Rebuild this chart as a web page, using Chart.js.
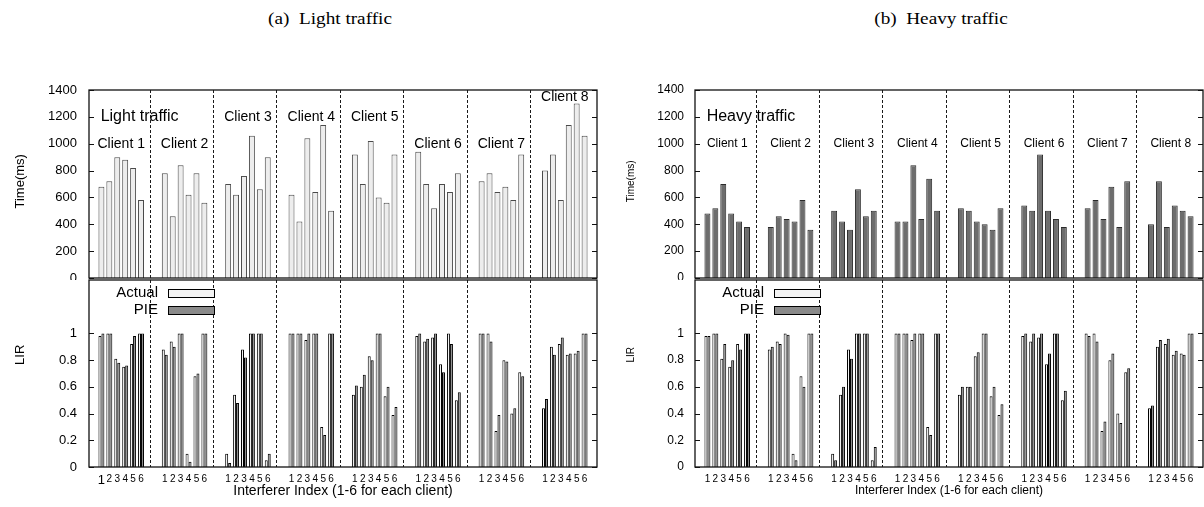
<!DOCTYPE html>
<html lang="en">
<head>
<meta charset="UTF-8">
<title>Time and LIR per client</title>
<script src="https://cdn.jsdelivr.net/npm/chart.js@4.4.1/dist/chart.umd.min.js"></script>
<style>
  body { margin: 0; background: #fff; width: 1204px; height: 507px; position: relative; overflow: hidden; }
  .box { position: absolute; }
  .box canvas { display: block; }
  .cap { position: absolute; top: 10px; width: 300px; text-align: center;
         font-family: "Liberation Serif", "Times New Roman", serif; font-size: 16px;
         transform: scaleX(1.2); }
</style>
</head>
<body>
<div class="cap" style="left:180px">(a)&nbsp; Light traffic</div>
<div class="cap" style="left:791px">(b)&nbsp; Heavy traffic</div>
<div class="box" style="left:0;top:0"><canvas id="timeA" width="600" height="280"></canvas></div>
<div class="box" style="left:0;top:279px"><canvas id="lirA" width="600" height="228"></canvas></div>
<div class="box" style="left:606px;top:0"><canvas id="timeB" width="598" height="280"></canvas></div>
<div class="box" style="left:606px;top:279px"><canvas id="lirB" width="598" height="228"></canvas></div>

<script>
// ---- data ----
const clients = ['Client 1', 'Client 2', 'Client 3', 'Client 4', 'Client 5', 'Client 6', 'Client 7', 'Client 8'];
const interferers = ['1', '2', '3', '4', '5', '6'];
const timeTicks = [0, 200, 400, 600, 800, 1000, 1200, 1400];
const lirTicks = [0, 0.2, 0.4, 0.6, 0.8, 1];

// time (ms), light traffic, one row per client
const timeLight = [
  [680, 720, 900, 880, 820, 580],
  [780, 460, 840, 620, 780, 560],
  [700, 620, 760, 1060, 660, 900],
  [620, 420, 1040, 640, 1140, 500],
  [920, 700, 1020, 600, 560, 920],
  [940, 700, 520, 700, 640, 780],
  [720, 780, 640, 680, 580, 920],
  [800, 920, 580, 1140, 1300, 1060]
];
// time (ms), heavy traffic
const timeHeavy = [
  [480, 520, 700, 480, 420, 380],
  [380, 460, 440, 420, 580, 360],
  [500, 420, 360, 660, 460, 500],
  [420, 420, 840, 440, 740, 500],
  [520, 500, 420, 400, 360, 520],
  [540, 500, 920, 500, 440, 380],
  [520, 580, 440, 680, 380, 720],
  [400, 720, 380, 540, 500, 460]
];
// measured LIR (same in both panels)
const lirActual = [
  [0.98, 1, 0.81, 0.75, 0.92, 1],
  [0.88, 0.94, 1, 0.10, 0.68, 1],
  [0.10, 0.54, 0.88, 1, 1, 0.05],
  [1, 1, 0.95, 1, 0.30, 1],
  [0.54, 0.60, 0.83, 1, 0.53, 0.39],
  [0.98, 0.94, 0.97, 0.77, 1, 0.50],
  [1, 1, 0.27, 0.80, 0.40, 0.71],
  [0.44, 0.90, 0.92, 0.84, 0.85, 1]
];
// PIE estimate, light traffic
const lirPieLight = [
  [1, 1, 0.78, 0.76, 0.98, 1],
  [0.84, 0.90, 1, 0.04, 0.70, 1],
  [0.03, 0.48, 0.82, 1, 1, 0.10],
  [1, 1, 1, 1, 0.24, 1],
  [0.61, 0.69, 0.80, 1, 0.60, 0.45],
  [1, 0.96, 1, 0.71, 0.92, 0.56],
  [1, 0.94, 0.39, 0.79, 0.44, 0.68],
  [0.51, 0.84, 0.97, 0.85, 0.87, 1]
];
// PIE estimate, heavy traffic
const lirPieHeavy = [
  [0.98, 1, 0.92, 0.80, 0.88, 1],
  [0.90, 0.92, 0.99, 0.05, 0.60, 1],
  [0.05, 0.60, 0.81, 1, 1, 0.15],
  [1, 1, 1, 1, 0.24, 1],
  [0.60, 0.60, 0.86, 1, 0.60, 0.47],
  [1, 1, 1, 0.85, 1, 0.57],
  [0.98, 0.94, 0.34, 0.85, 0.33, 0.74],
  [0.46, 0.95, 0.96, 0.87, 0.84, 1]
];

// ---- layout helpers ----
const FONT = '"Liberation Sans", Arial, Helvetica, sans-serif';
const SLOT = 8; // 6 interferers + 2 empty slots per client
Chart.defaults.font.family = FONT;
Chart.defaults.color = '#000';

function toPoints(rows) {
  return rows.flatMap((r, g) => r.map((v, i) => ({ x: g * SLOT + i, y: v })));
}
const xTicks = clients.flatMap((c, g) => interferers.map((s, i) => g * SLOT + i));

function xScale(show, bigFirst) {
  return {
    type: 'linear',
    display: show,
    min: -0.9,
    max: (clients.length - 1) * SLOT + interferers.length - 1 + 0.9,
    afterBuildTicks: s => { s.ticks = xTicks.map(v => ({ value: v })); },
    afterFit: s => { s.height = show ? 40 : 0; s.paddingLeft = 0; s.paddingRight = 0; },
    grid: { display: false, drawTicks: false },
    border: { display: false },
    ticks: {
      autoSkip: false, maxRotation: 0, padding: 6,
      callback: v => interferers[v % SLOT] || '',
      font: ctx => ({ size: (bigFirst && ctx.index === 0) ? 13 : 10 })
    }
  };
}

function yScale(max, ticks, size, pad) {
  return {
    min: 0, max: max,
    afterBuildTicks: s => { s.ticks = ticks.map(v => ({ value: v })); },
    // fixed axis width, and no label overhang padding so the panels butt together
    afterFit: s => { s.width = 89; s.paddingTop = 0; s.paddingBottom = 0; },
    grid: { display: false, drawTicks: false },
    border: { display: false },
    ticks: { padding: pad, font: { size: size }, callback: v => String(v) }
  };
}

// frame, inward ticks, client separators and annotations
function makeDecor(cfg) {
  return {
    id: 'decor',
    beforeDatasetsDraw(chart) {
      const { ctx, chartArea: a } = chart;
      const x = chart.scales.x;
      ctx.save();
      ctx.strokeStyle = '#1a1a1a';
      ctx.lineWidth = 1;
      ctx.setLineDash([3, 2]);
      for (let g = 1; g < clients.length; g++) {
        const px = Math.round(x.getPixelForValue(g * SLOT - 1.9)) + 0.5;
        ctx.beginPath();
        ctx.moveTo(px, a.top);
        ctx.lineTo(px, a.bottom);
        ctx.stroke();
      }
      ctx.restore();
    },
    afterDraw(chart) {
      const { ctx, chartArea: a } = chart;
      const x = chart.scales.x, y = chart.scales.y;
      ctx.save();
      ctx.strokeStyle = '#111';
      ctx.lineWidth = 1.3;
      ctx.strokeRect(a.left, a.top, a.right - a.left, a.bottom - a.top);
      ctx.lineWidth = 1;
      cfg.yTicks.forEach(v => {
        const py = Math.round(y.getPixelForValue(v)) + 0.5;
        ctx.beginPath();
        ctx.moveTo(a.left, py); ctx.lineTo(a.left + 5, py);
        ctx.moveTo(a.right - 5, py); ctx.lineTo(a.right, py);
        ctx.stroke();
      });

      ctx.fillStyle = '#000';
      // rotated y title
      ctx.save();
      ctx.translate(cfg.yTitle.x, y.getPixelForValue(cfg.yTitle.at));
      ctx.rotate(-Math.PI / 2);
      ctx.font = cfg.yTitle.size + 'px ' + FONT;
      ctx.textAlign = 'center';
      ctx.textBaseline = 'middle';
      ctx.fillText(cfg.yTitle.text, 0, 0);
      ctx.restore();

      // in-plot notes (traffic label, client names)
      ctx.textBaseline = 'middle';
      (cfg.notes || []).forEach(n => {
        ctx.font = n.size + 'px ' + FONT;
        ctx.textAlign = n.align || 'center';
        ctx.fillText(n.text, x.getPixelForValue(n.x), y.getPixelForValue(n.y));
      });

      if (cfg.legend) {
        ctx.font = cfg.legend.size + 'px ' + FONT;
        ctx.textAlign = 'right';
        cfg.legend.items.forEach((it, k) => {
          const cy = a.top + 13 + k * 17;
          ctx.fillStyle = '#000';
          ctx.fillText(it.label, a.left + 69, cy);
          ctx.fillStyle = it.color;
          ctx.fillRect(a.left + 79, cy - 4, 46, 8);
          ctx.strokeStyle = '#000';
          ctx.strokeRect(a.left + 79.5, cy - 3.5, 46, 8);
        });
      }

      if (cfg.xTitle) {
        ctx.fillStyle = '#000';
        ctx.font = cfg.xTitle.size + 'px ' + FONT;
        ctx.textAlign = 'center';
        ctx.fillText(cfg.xTitle.text, (a.left + a.right) / 2, cfg.xTitle.y);
      }
      ctx.restore();
    }
  };
}

function clientNotes(levels, size) {
  return clients.map((c, g) => ({ text: c, x: g * SLOT + 2.5, y: levels[g], size: size }));
}

const ACTUAL_COLOR = '#f3f3f3';
const PIE_COLOR = '#8a8a8a';

function timeChart(id, rows, fill, edge, tickSize, pad, notes, yTitleX, yTitleSize, right) {
  return new Chart(document.getElementById(id), {
    type: 'bar',
    data: {
      datasets: [{
        data: toPoints(rows),
        backgroundColor: fill,
        borderColor: edge,
        borderWidth: 1,
        borderSkipped: 'start',
        categoryPercentage: 1,
        barPercentage: 0.75
      }]
    },
    options: {
      responsive: false,
      animation: false,
      layout: { autoPadding: false, padding: { top: 90, bottom: 2, left: 0, right: right } },
      plugins: { legend: { display: false }, tooltip: { enabled: false } },
      scales: { x: xScale(false, false), y: yScale(1400, timeTicks, tickSize, pad) }
    },
    plugins: [makeDecor({
      yTicks: timeTicks,
      yTitle: { text: 'Time(ms)', x: yTitleX, at: 720, size: yTitleSize },
      notes: notes
    })]
  });
}

function lirChart(id, pie, tickSize, pad, bigFirst, yTitleX, yTitleSize, legendSize, xTitleSize, right) {
  return new Chart(document.getElementById(id), {
    type: 'bar',
    data: {
      datasets: [
        { label: 'Actual', data: toPoints(lirActual), backgroundColor: ACTUAL_COLOR, borderColor: '#000',
          borderWidth: 1, categoryPercentage: 0.75, barPercentage: 1 },
        { label: 'PIE', data: toPoints(pie), backgroundColor: PIE_COLOR, borderColor: '#000',
          borderWidth: 1, categoryPercentage: 0.75, barPercentage: 1 }
      ]
    },
    options: {
      responsive: false,
      animation: false,
      layout: { autoPadding: false, padding: { top: 1, bottom: 0, left: 0, right: right } },
      plugins: { legend: { display: false }, tooltip: { enabled: false } },
      scales: { x: xScale(true, bigFirst), y: yScale(1.4, lirTicks, tickSize, pad) }
    },
    plugins: [makeDecor({
      yTicks: lirTicks,
      yTitle: { text: 'LIR', x: yTitleX, at: 0.84, size: yTitleSize },
      legend: { size: legendSize, items: [{ label: 'Actual', color: ACTUAL_COLOR }, { label: 'PIE', color: PIE_COLOR }] },
      xTitle: { text: 'Interferer Index (1-6 for each client)', y: 212, size: xTitleSize }
    })]
  });
}

timeChart('timeA', timeLight, '#ededed', '#4a4a4a', 13, 12,
  [{ text: 'Light traffic', x: -0.1, y: 1200, size: 16, align: 'left' }]
    .concat(clientNotes([1000, 1000, 1200, 1200, 1200, 1000, 1000, 1350], 14)),
  20, 13, 3);
lirChart('lirA', lirPieLight, 13, 12, true, 20, 13, 15, 14, 3);

timeChart('timeB', timeHeavy, '#6d6d6d', '#2a2a2a', 12, 11,
  [{ text: 'Heavy traffic', x: -0.1, y: 1200, size: 16, align: 'left' }]
    .concat(clientNotes([1000, 1000, 1000, 1000, 1000, 1000, 1000, 1000], 12)),
  25, 10, 1);
lirChart('lirB', lirPieHeavy, 12, 11, false, 25, 10, 15, 12, 1);
</script>
</body>
</html>
